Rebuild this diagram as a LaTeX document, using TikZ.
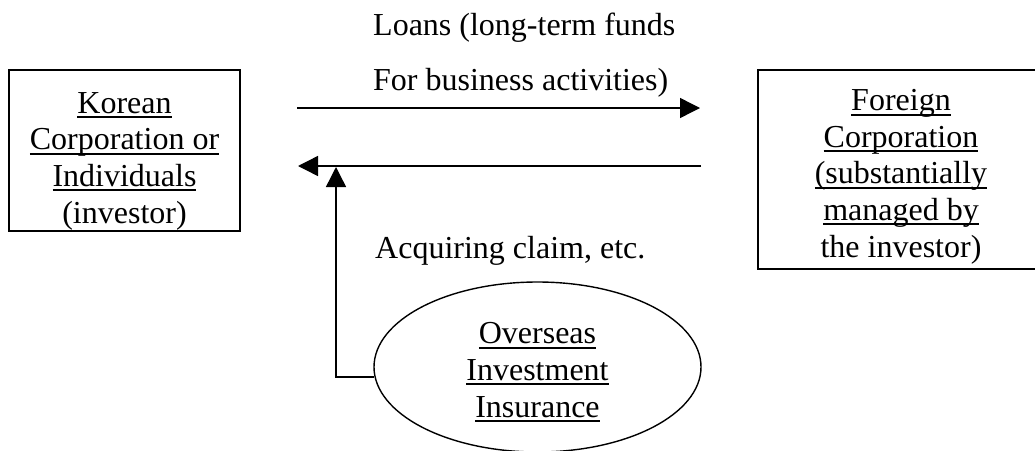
\documentclass[tikz,border=0pt]{standalone}
\usepackage{fontspec}
\setmainfont{Liberation Serif}
\usetikzlibrary{arrows.meta,shapes.geometric}
\newcommand\myul[1]{\setbox0\hbox{#1}\rlap{\rule[-5pt]{\wd0}{2pt}}\box0}
\tikzset{
  boxshape/.style={draw, line width=1.6pt, inner sep=0pt},
  txt/.style={inner sep=0pt, align=center, font=\fontsize{32}{36.6}\selectfont},
  plain/.style={inner sep=0pt, font=\fontsize{32}{36.6}\selectfont},
  flow/.style={line width=1.4pt, -{Triangle[length=20pt,width=20pt]}},
}
\begin{document}
\begin{tikzpicture}[x=1pt,y=-1pt]
\useasboundingbox (0,0) rectangle (1035,450);
% boxes
\node[boxshape, minimum width=231pt, minimum height=161pt] (kor) at (124.5,150.5) {};
\node[boxshape, minimum width=280pt, minimum height=199pt] (for) at (898,169.5) {};
\node[draw, line width=1.4pt, ellipse, minimum width=327pt, minimum height=170pt, inner sep=0pt] (ins) at (537.5,367) {};
% texts (base anchor = baseline of last line)
\node[txt, anchor=base] (kort) at (124.5,223) {\myul{Korean}\\\myul{Corporation or}\\\myul{Individuals}\\(investor)};
\node[txt, anchor=base] (fort) at (901,257) {\myul{Foreign}\\\myul{Corporation}\\\myul{(substantially}\\\myul{managed by}\\the investor)};
\node[txt, anchor=base] (inst) at (537.5,417) {\myul{Overseas}\\\myul{Investment}\\\myul{Insurance}};
\node[plain, anchor=base west] (l1) at (373,35) {Loans (long-term funds};
\node[plain, anchor=base west] (l2) at (373,90) {For business activities)};
\node[plain, anchor=base west] (l3) at (375,258) {Acquiring claim, etc.};
% connectors
\coordinate (a1s) at (297,108);
\coordinate (a1e) at (700,108);
\coordinate (a2s) at (701,166);
\coordinate (a2e) at (298,166);
\coordinate (v0) at (374,377);
\coordinate (v1) at (336,377);
\coordinate (v2) at (336,167);
\draw[flow] (a1s) -- (a1e);
\draw[flow] (a2s) -- (a2e);
\draw[flow] (v0) -- (v1) -- (v2);
\end{tikzpicture}
\end{document}
